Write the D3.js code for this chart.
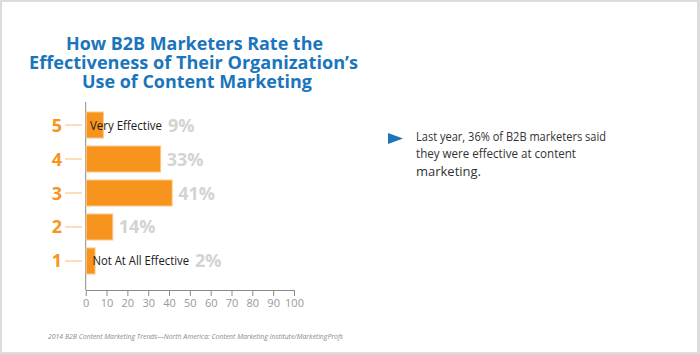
<!DOCTYPE html>
<html><head><meta charset="utf-8">
<script src="https://cdn.jsdelivr.net/npm/d3@7"></script>
<style>body{margin:0;background:#fff}svg{display:block}</style>
</head><body>
<svg id="c" width="700" height="354"></svg>
<script>
const ratings = [5, 4, 3, 2, 1];
const percentLabels = ["9%", "33%", "41%", "14%", "2%"];
const barLengths = [8.5, 36, 41.5, 13, 4.5];
const barNotes = ["Very Effective", "", "", "", "Not At All Effective"];
const xTicks = [0, 10, 20, 30, 40, 50, 60, 70, 80, 90, 100];
const titleLines = ["How B2B Marketers Rate the", "Effectiveness of Their Organization’s", "Use of Content Marketing"];
const bulletLines = ["Last year, 36% of B2B marketers said", "they were effective at content", "marketing."];
const source = "2014 B2B Content Marketing Trends—North America: Content Marketing Institute/MarketingProfs";

const svg = d3.select("#c");
svg.append("rect").attr("width",700).attr("height",354).attr("fill","#dcdcdc");
svg.append("rect").attr("x",2).attr("y",2).attr("width",695).attr("height",350).attr("fill","#fff");

// Title
const titleX = [194.5, 193.5, 197];
const titleW = [257, 329, 230];
titleLines.forEach((t,i)=>{
  svg.append("text").attr("x",titleX[i]).attr("y",49.5+i*19).attr("text-anchor","middle")
    .attr("font-family","Open Sans").attr("font-weight","bold").attr("font-size",18.5)
    .attr("fill","#1b75bc").attr("textLength",titleW[i]).attr("lengthAdjust","spacingAndGlyphs").text(t);
});

const x = d3.scaleLinear().domain([0,100]).range([85.7,294]);
const y = d3.scaleBand().domain(ratings).range([108,278]).paddingInner(0.235).paddingOuter(0.118);

// axis
const ax = svg.append("g").attr("transform","translate(0,290)")
  .call(d3.axisBottom(x).tickValues(xTicks).tickSize(6).tickSizeOuter(0).tickPadding(3));
ax.select(".domain").attr("stroke","#8a8a8a");
ax.selectAll(".tick line").attr("stroke","#8a8a8a");
ax.selectAll(".tick text").attr("fill","#999").attr("font-family","Open Sans").attr("font-size",11);
svg.append("line").attr("x1",x(0)).attr("x2",x(0)).attr("y1",102).attr("y2",290).attr("stroke","#8a8a8a");

// bars
ratings.forEach((r,i)=>{
  const yc = y(r)+y.bandwidth()/2;
  svg.append("rect").attr("x",x(0)+0.5).attr("y",y(r)).attr("width",x(barLengths[i])-x(0)-0.5)
    .attr("height",y.bandwidth()).attr("fill","#f7941d").attr("stroke","#fbc98c").attr("stroke-width",1);
  svg.append("line").attr("x1",65).attr("x2",82).attr("y1",yc).attr("y2",yc).attr("stroke","#fcd4a4").attr("stroke-width",1.5);
  svg.append("text").attr("x",57).attr("y",yc+6.5).attr("text-anchor","middle")
    .attr("font-family","Open Sans").attr("font-weight","bold").attr("font-size",18).attr("fill","#f7941d").text(r);
  let end = x(barLengths[i]);
  if (barNotes[i]) {
    const nt = svg.append("text").attr("x", i===0?90:92.5).attr("y",yc+4.5)
      .attr("font-family","Open Sans").attr("font-size",12.5).attr("fill","#1a1a1a").text(barNotes[i]);
    const tw = i===0?72:96.5;
    nt.attr("textLength",tw).attr("lengthAdjust","spacingAndGlyphs");
    end = Math.max(end, +nt.attr("x")+tw);
  }
  svg.append("text").attr("x",end+6).attr("y",yc+6.5)
    .attr("font-family","Open Sans").attr("font-weight","bold").attr("font-size",18).attr("fill","#d3d3d3").text(percentLabels[i]);
});

// bullet
svg.append("path").attr("d","M388,133 L403,138.5 L388,144 Z").attr("fill","#1b75bc");
const bw = [190, 160, 65];
bulletLines.forEach((t,i)=>{
  svg.append("text").attr("x",416).attr("y",141+i*17.3).attr("font-family","Open Sans").attr("font-size",13)
    .attr("fill","#333").attr("textLength",bw[i]).attr("lengthAdjust","spacingAndGlyphs").text(t);
});

svg.append("text").attr("x",48).attr("y",339).attr("font-family","Open Sans").attr("font-style","italic")
  .attr("font-size",7).attr("fill","#8a8a8a").attr("textLength",295).attr("lengthAdjust","spacingAndGlyphs").text(source);
</script>
</body></html>
